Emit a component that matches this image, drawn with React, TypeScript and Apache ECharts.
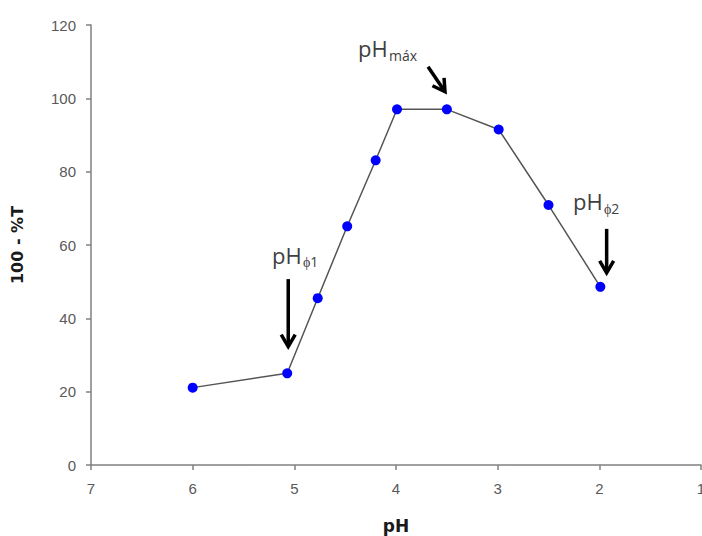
import React, { useEffect, useRef } from "react";
import * as echarts from "echarts";

const phValues = [6.0, 5.07, 4.77, 4.48, 4.2, 3.99, 3.5, 2.99, 2.5, 1.99];
const transValues = [21.1, 25.0, 45.5, 65.1, 83.1, 97.0, 97.0, 91.5, 70.9, 48.6];

const xTicks = { min: 1, max: 7, interval: 1 };
const yTicks = { min: 0, max: 120, interval: 20 };

// annotation anchors in data space: [pH, value]
const arrowFrom = [[5.06, 50.7], [3.685, 108.6], [1.928, 64.4]];
const arrowTo = [[5.06, 32.3], [3.518, 101.8], [1.928, 52.4]];
const labelMain = ["pH", "pH", "pH"];
const labelSub = ["\u03d51", "m\u00e1x", "\u03d52"];
const labelAnchor = [[5.22, 57.3], [4.374, 113.6], [2.259, 72.0]];

export default function App() {
  const ref = useRef<HTMLDivElement>(null);
  useEffect(() => {
    if (!ref.current) return;
    const chart = echarts.init(ref.current, null, { renderer: "svg" });
    const axisLineColor = "#808080";
    const labelColor = "#595959";
    chart.setOption({
      animation: false,
      backgroundColor: "#ffffff",
      grid: {
        left: 91,
        right: 1,
        top: 25,
        bottom: 71,
        containLabel: false,
        outerBoundsMode: "none",
      },
      xAxis: {
        type: "value",
        inverse: true,
        min: xTicks.min,
        max: xTicks.max,
        interval: xTicks.interval,
        name: "pH",
        nameLocation: "middle",
        nameGap: 52,
        nameTextStyle: { fontFamily: "DejaVu Sans", fontWeight: "bold", fontSize: 17, color: "#1a1a1a" },
        axisLine: { show: true, onZero: false, lineStyle: { color: axisLineColor, width: 1.5 } },
        axisTick: { show: true, length: 5, lineStyle: { color: axisLineColor, width: 1.5 } },
        axisLabel: { margin: 16, fontFamily: "Liberation Sans", fontSize: 15, color: labelColor },
        splitLine: { show: false },
      },
      yAxis: {
        type: "value",
        min: yTicks.min,
        max: yTicks.max,
        interval: yTicks.interval,
        name: "100 - %T",
        nameLocation: "middle",
        nameGap: 66,
        nameTextStyle: { fontFamily: "DejaVu Sans", fontWeight: "bold", fontSize: 16, color: "#1a1a1a" },
        axisLine: { show: true, lineStyle: { color: axisLineColor, width: 1.5 } },
        axisTick: { show: true, length: 5, lineStyle: { color: axisLineColor, width: 1.5 } },
        axisLabel: { margin: 15, fontFamily: "Liberation Sans", fontSize: 15, color: labelColor },
        splitLine: { show: false },
      },
      series: [
        {
          type: "line",
          data: phValues.map((p, i) => [p, transValues[i]]),
          symbol: "circle",
          symbolSize: 10,
          lineStyle: { color: "#555555", width: 1.5 },
          itemStyle: { color: "#0000ff" },
          z: 3,
        },
      ],
    });

    const px = (p: number[]) => chart.convertToPixel({ gridIndex: 0 }, p) as number[];
    const elements: any[] = [];
    arrowFrom.forEach((f, i) => {
      const a = px(f);
      const b = px(arrowTo[i]);
      const dx = b[0] - a[0];
      const dy = b[1] - a[1];
      const len = Math.sqrt(dx * dx + dy * dy);
      const ux = dx / len;
      const uy = dy / len;
      const nx = -uy;
      const ny = ux;
      const h = 12;
      const w = 7;
      elements.push({
        type: "line",
        shape: { x1: a[0], y1: a[1], x2: b[0] - ux * 1.5, y2: b[1] - uy * 1.5 },
        style: { stroke: "#000", lineWidth: 3.5 },
        z: 10,
      });
      elements.push({
        type: "polyline",
        shape: {
          points: [
            [b[0] - ux * h + nx * w, b[1] - uy * h + ny * w],
            [b[0], b[1]],
            [b[0] - ux * h - nx * w, b[1] - uy * h - ny * w],
          ],
        },
        style: { stroke: "#000", lineWidth: 3.5, fill: null, lineJoin: "miter" },
        z: 10,
      });
    });
    labelAnchor.forEach((an, i) => {
      const p = px(an);
      elements.push({
        type: "text",
        x: p[0],
        y: p[1],
        style: {
          text: labelMain[i],
          fontFamily: "Open Sans",
          fontSize: 22,
          fill: "#404040",
          align: "left",
          verticalAlign: "middle",
        },
        z: 10,
      });
      elements.push({
        type: "text",
        x: p[0] + 31,
        y: p[1] + 7,
        style: {
          text: labelSub[i],
          fontFamily: "Open Sans",
          fontSize: 14,
          fill: "#404040",
          align: "left",
          verticalAlign: "middle",
        },
        z: 10,
      });
    });
    chart.setOption({ graphic: elements });
    return () => chart.dispose();
  }, []);
  return (
    <div
      ref={ref}
      style={{ position: "fixed", left: 0, top: 0, width: 702, height: 536, background: "#fff" }}
    />
  );
}
